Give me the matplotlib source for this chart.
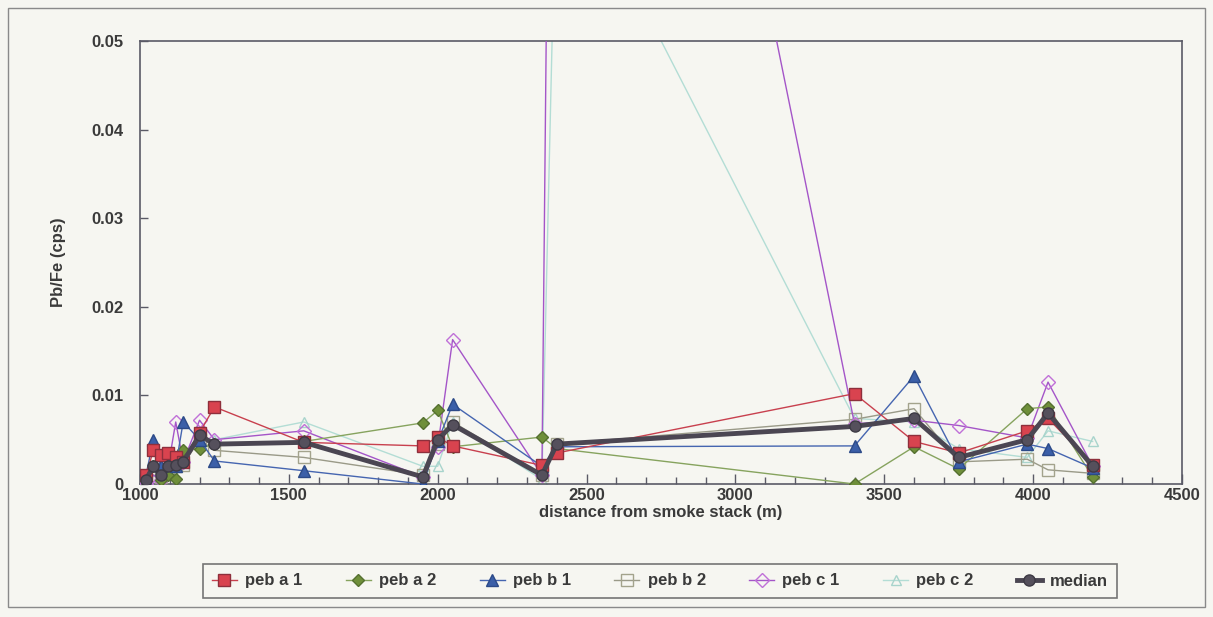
import matplotlib
matplotlib.use("Agg")
import matplotlib.pyplot as plt
from matplotlib.patches import Rectangle
from matplotlib.ticker import MultipleLocator

plt.rcParams['font.family'] = ['Liberation Sans', 'DejaVu Sans']

# sampling distances from the smoke stack (m)
distance = [1020, 1045, 1070, 1095, 1120, 1145, 1200, 1250, 1550, 1950,
            2000, 2050, 2350, 2400, 3400, 3600, 3750, 3980, 4050, 4200]

peb_a1 = [0.0010, 0.0038, 0.0033, 0.0035, 0.0030, 0.0025, 0.0058, 0.0087, 0.0047, 0.0043,
          0.0053, 0.0043, 0.0021, 0.0035, 0.0102, 0.0048, 0.0035, 0.0060, 0.0074, 0.0022]
peb_a2 = [0.0008, 0.0020, 0.0005, 0.0010, 0.0006, 0.0038, 0.0040, 0.0045, 0.0048, 0.0069,
          0.0083, 0.0042, 0.0053, 0.0040, 0.0000, 0.0042, 0.0017, 0.0085, 0.0087, 0.0008]
peb_b1 = [0.0010, 0.0050, 0.0020, 0.0025, 0.0020, 0.0070, 0.0050, 0.0026, 0.0015, 0.0000,
          0.0048, 0.0090, 0.0020, 0.0042, 0.0043, 0.0122, 0.0025, 0.0045, 0.0040, 0.0018]
peb_b2 = [0.0005, 0.0010, 0.0008, 0.0015, 0.0020, 0.0022, 0.0050, 0.0038, 0.0030, 0.0010,
          0.0045, 0.0070, 0.0010, 0.0045, 0.0073, 0.0085, 0.0025, 0.0028, 0.0016, 0.0012]
peb_c1 = [0.0000, 0.0010, 0.0005, 0.0020, 0.0070, 0.0025, 0.0072, 0.0050, 0.0060, 0.0008,
          0.0042, 0.0163, 0.0010, 0.1720, 0.0068, 0.0072, 0.0066, 0.0052, 0.0115, 0.0020]
peb_c2 = [0.0005, 0.0015, 0.0010, 0.0020, 0.0025, 0.0030, 0.0050, 0.0050, 0.0070, 0.0020,
          0.0020, 0.0070, 0.0005, 0.0730, 0.0074, 0.0070, 0.0040, 0.0030, 0.0060, 0.0048]
median = [0.0005, 0.0020, 0.0010, 0.0020, 0.0022, 0.0025, 0.0055, 0.0045, 0.0047, 0.0008,
          0.0050, 0.0067, 0.0010, 0.0045, 0.0065, 0.0074, 0.0030, 0.0050, 0.0080, 0.0020]

series_labels = ['peb a 1', 'peb a 2', 'peb b 1', 'peb b 2', 'peb c 1', 'peb c 2', 'median']

x_ticks = [1000, 1500, 2000, 2500, 3000, 3500, 4000, 4500]
y_ticks = [0, 0.01, 0.02, 0.03, 0.04, 0.05]
y_ticklabels = ['0', '0.01', '0.02', '0.03', '0.04', '0.05']

W, H = 1213, 617
bg = '#f6f6f1'
txt = '#3a3a3a'
fs = 12

fig = plt.figure(figsize=(W / 100, H / 100), dpi=100, facecolor=bg)
ax = fig.add_axes([140 / W, 1 - 484 / H, (1182 - 140) / W, (484 - 41) / H])
ax.set_facecolor(bg)

# outer chart frame
fig.patches.append(Rectangle((8 / W, 1 - 607 / H), (1205 - 8) / W, (607 - 8) / H,
                             transform=fig.transFigure, fill=False,
                             edgecolor='#8a8a8a', linewidth=1.0))

styles = [
    dict(data=peb_a1, color='#c8404e', marker='s', ms=8, mfc='#d9434f', mec='#8e2f3c', lw=1.0, z=5),
    dict(data=peb_a2, color='#86a35e', marker='D', ms=6.5, mfc='#6f8f3a', mec='#557030', lw=1.0, z=4),
    dict(data=peb_b1, color='#4565b0', marker='^', ms=8, mfc='#3b5fa8', mec='#2c4a88', lw=1.0, z=4),
    dict(data=peb_b2, color='#9a9a88', marker='s', ms=8, mfc='none', mec='#a3a38c', lw=1.0, z=3),
    dict(data=peb_c1, color='#a455c8', marker='D', ms=7, mfc='none', mec='#c070d8', lw=1.0, z=3),
    dict(data=peb_c2, color='#b3ddd5', marker='^', ms=7, mfc='none', mec='#a8d4cc', lw=1.0, z=2),
    dict(data=median, color='#4b4652', marker='o', ms=8, mfc='#55505c', mec='#3d3a44', lw=3.5, z=6),
]

handles = []
for st, lab in zip(styles, series_labels):
    h, = ax.plot(distance, st['data'], color=st['color'], lw=st['lw'],
                 marker=st['marker'], markersize=st['ms'],
                 markerfacecolor=st['mfc'], markeredgecolor=st['mec'],
                 markeredgewidth=1.0, label=lab, zorder=st['z'])
    handles.append(h)

ax.set_xlim(1000, 4500)
ax.set_ylim(0, 0.05)
ax.set_xticks(x_ticks)
ax.xaxis.set_minor_locator(MultipleLocator(100))
ax.set_yticks(y_ticks)
ax.set_yticklabels(y_ticklabels)

for side in ax.spines.values():
    side.set_color('#5a5a66')
    side.set_linewidth(1.2)

ax.tick_params(axis='x', which='major', direction='in', length=7, width=1.0,
               colors='#5a5a66', labelcolor=txt, labelsize=fs, pad=3)
ax.tick_params(axis='x', which='minor', direction='in', length=5, width=1.0,
               colors='#5a5a66')
ax.tick_params(axis='y', which='major', direction='in', length=6, width=1.0,
               colors='#5a5a66', labelcolor=txt, labelsize=fs, pad=12)
for lbl in ax.get_xticklabels() + ax.get_yticklabels():
    lbl.set_fontweight('bold')

ax.set_xlabel('distance from smoke stack (m)', fontsize=fs, fontweight='bold',
              color=txt, labelpad=1)
ax.set_ylabel('Pb/Fe (cps)', fontsize=fs, fontweight='bold', color=txt,
              labelpad=18)

leg = fig.legend(handles=handles, loc='center', ncol=7,
                 bbox_to_anchor=(660 / W, 1 - 581 / H), frameon=True,
                 fancybox=False, edgecolor='#555555', facecolor=bg,
                 prop={'weight': 'bold', 'size': fs}, handlelength=1.5,
                 handletextpad=0.5, columnspacing=2.6, borderpad=0.55)
leg.get_frame().set_linewidth(1.2)
for t in leg.get_texts():
    t.set_color(txt)

fig.savefig('out.png', dpi=100, facecolor=bg)
